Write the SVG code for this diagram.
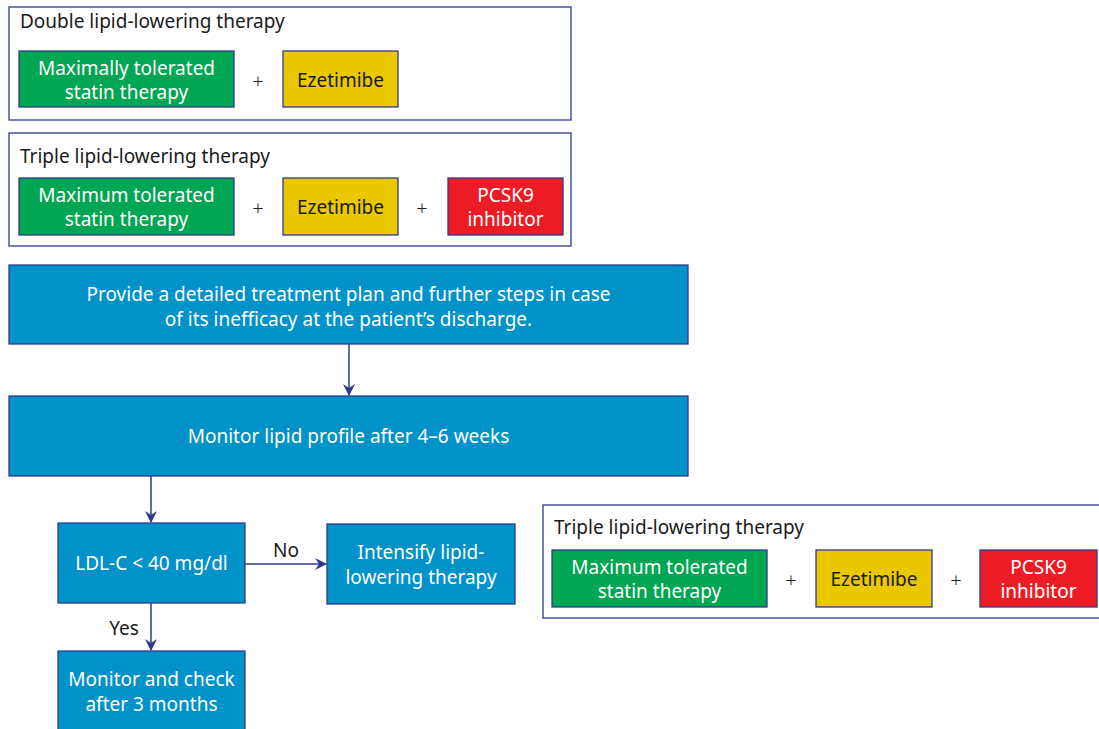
<svg xmlns="http://www.w3.org/2000/svg" width="1099" height="729" viewBox="0 0 1099 729">
<defs>
<marker id="ah" viewBox="0 0 12 12" refX="11" refY="6" markerWidth="12" markerHeight="12" markerUnits="userSpaceOnUse" orient="auto">
<path d="M0,0 L12,6 L0,12 L4,6 Z" fill="#2E3A8C"/>
</marker>
<style>
text{font-family:"Noto Sans","Open Sans",sans-serif;font-size:19px}
.frame{fill:#fff;stroke:#2E3A8C;stroke-width:1.3}
.blue{fill:#0092C8;stroke:#2E3A8C;stroke-width:1.3}
.green{fill:#00A651;stroke:#2E3A8C;stroke-width:1.3}
.yellow{fill:#EBC700;stroke:#2E3A8C;stroke-width:1.3}
.red{fill:#ED1C24;stroke:#2E3A8C;stroke-width:1.3}
.w{fill:#fff;text-anchor:middle}
.k{fill:#1a1a1a}
.kc{fill:#1a1a1a;text-anchor:middle}
.plus{fill:#222;text-anchor:middle;font-size:20px;font-weight:300}
.conn{stroke:#2E3A8C;stroke-width:1.5;fill:none;marker-end:url(#ah)}
</style>
</defs>
<g id="double">
<rect class="frame" x="9" y="7" width="562" height="113"/>
<text class="k" x="20" y="28">Double lipid-lowering therapy</text>
<rect class="green" x="19" y="51" width="215" height="56"/>
<text class="w" x="126.5" y="75">Maximally tolerated</text>
<text class="w" x="126.5" y="99">statin therapy</text>
<text class="plus" x="258" y="88">+</text>
<rect class="yellow" x="283" y="51" width="115" height="56"/>
<text class="kc" x="340.5" y="87">Ezetimibe</text>
</g>
<g id="triple1">
<rect class="frame" x="9" y="133" width="562" height="113"/>
<text class="k" x="20" y="163">Triple lipid-lowering therapy</text>
<rect class="green" x="19" y="178" width="215" height="57"/>
<text class="w" x="126.5" y="202">Maximum tolerated</text>
<text class="w" x="126.5" y="226">statin therapy</text>
<text class="plus" x="258" y="215">+</text>
<rect class="yellow" x="283" y="178" width="115" height="57"/>
<text class="kc" x="340.5" y="214">Ezetimibe</text>
<text class="plus" x="422" y="215">+</text>
<rect class="red" x="448" y="178" width="115" height="57"/>
<text class="w" x="505.5" y="202">PCSK9</text>
<text class="w" x="505.5" y="226">inhibitor</text>
</g>
<g id="plan">
<rect class="blue" x="9" y="265" width="679" height="79"/>
<text class="w" x="348.5" y="301">Provide a detailed treatment plan and further steps in case</text>
<text class="w" x="348.5" y="326">of its inefficacy at the patient’s discharge.</text>
</g>
<g id="monitor">
<rect class="blue" x="9" y="396" width="679" height="80"/>
<text class="w" x="348.5" y="443">Monitor lipid profile after 4–6 weeks</text>
</g>
<g id="ldl">
<rect class="blue" x="58" y="523" width="187" height="80"/>
<text class="w" x="151.5" y="570">LDL-C &lt; 40 mg/dl</text>
</g>
<g id="intensify">
<rect class="blue" x="327" y="524" width="188" height="80"/>
<text class="w" x="421" y="559">Intensify lipid-</text>
<text class="w" x="421" y="584">lowering therapy</text>
</g>
<g id="check">
<rect class="blue" x="58" y="651" width="187" height="85"/>
<text class="w" x="151.5" y="686">Monitor and check</text>
<text class="w" x="151.5" y="711">after 3 months</text>
</g>
<g id="triple2">
<rect class="frame" x="543" y="505" width="570" height="113"/>
<text class="k" x="554" y="534">Triple lipid-lowering therapy</text>
<rect class="green" x="552" y="550" width="215" height="57"/>
<text class="w" x="659.5" y="574">Maximum tolerated</text>
<text class="w" x="659.5" y="598">statin therapy</text>
<text class="plus" x="791" y="587">+</text>
<rect class="yellow" x="816" y="550" width="116" height="57"/>
<text class="kc" x="874" y="586">Ezetimibe</text>
<text class="plus" x="956" y="587">+</text>
<rect class="red" x="980" y="550" width="117" height="57"/>
<text class="w" x="1038.5" y="574">PCSK9</text>
<text class="w" x="1038.5" y="598">inhibitor</text>
</g>
<g id="connectors">
<line class="conn" x1="349" y1="344" x2="349" y2="395"/>
<line class="conn" x1="151" y1="476" x2="151" y2="522"/>
<line class="conn" x1="245" y1="564" x2="326" y2="564"/>
<line class="conn" x1="151" y1="603" x2="151" y2="650"/>
<text class="k" x="286" y="557" text-anchor="middle">No</text>
<text class="k" x="124" y="635" text-anchor="middle">Yes</text>
</g>
</svg>
